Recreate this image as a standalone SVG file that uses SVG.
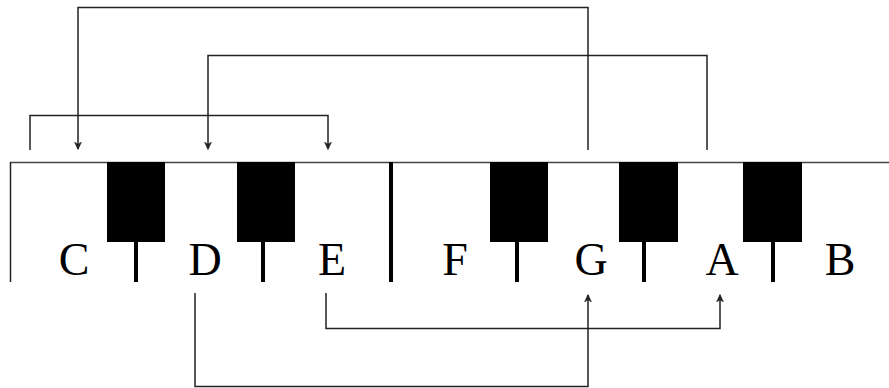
<svg xmlns="http://www.w3.org/2000/svg" width="889" height="388" viewBox="0 0 889 388">
<defs>
<marker id="arr" viewBox="0 0 10 10" refX="9" refY="5" markerWidth="8" markerHeight="8" markerUnits="userSpaceOnUse" orient="auto">
<path d="M0.5,0.8 L9.5,5 L0.5,9.2 L3,5 Z" fill="#222" stroke="#222" stroke-width="0.8" stroke-linejoin="round"/>
</marker>
<style>
.k{fill:#000}
.stem{stroke:#000;stroke-width:4}
.edge{fill:none;stroke:#222;stroke-width:1.5}
.lbl{font-family:"Liberation Serif","Times New Roman",serif;font-size:46px;fill:#000;text-anchor:middle}
</style>
</defs>
<rect width="889" height="388" fill="#fff"/>
<g id="keyboard">
<line x1="10" y1="162.5" x2="889" y2="162.5" stroke="#444" stroke-width="1.5"/>
<line x1="10.5" y1="162" x2="10.5" y2="282" stroke="#222" stroke-width="1.5"/>
<line x1="391" y1="162" x2="391" y2="282" stroke="#000" stroke-width="4"/>
</g>
<g id="blackkeys">
<rect class="k" x="107" y="162" width="58" height="80"/>
<rect class="k" x="237" y="162" width="58" height="80"/>
<rect class="k" x="490" y="162" width="58" height="80"/>
<rect class="k" x="619" y="162" width="59" height="80"/>
<rect class="k" x="743" y="162" width="59" height="80"/>
<line class="stem" x1="136" y1="242" x2="136" y2="282"/>
<line class="stem" x1="263" y1="242" x2="263" y2="282"/>
<line class="stem" x1="517" y1="242" x2="517" y2="282"/>
<line class="stem" x1="644" y1="242" x2="644" y2="282"/>
<line class="stem" x1="773" y1="242" x2="773" y2="282"/>
</g>
<g id="C"><text class="lbl" x="74" y="275">C</text></g>
<g id="D"><text class="lbl" x="205" y="275">D</text></g>
<g id="E"><text class="lbl" x="332" y="275">E</text></g>
<g id="F"><text class="lbl" x="455" y="275">F</text></g>
<g id="G"><text class="lbl" x="591" y="275">G</text></g>
<g id="A"><text class="lbl" x="722" y="275">A</text></g>
<g id="B"><text class="lbl" x="840" y="275">B</text></g>
<g id="connectors">
<path class="edge" d="M588,150 V7.5 H78 V149" marker-end="url(#arr)"/>
<path class="edge" d="M707,150 V55.5 H208 V149" marker-end="url(#arr)"/>
<path class="edge" d="M30,150 V115.5 H328 V149" marker-end="url(#arr)"/>
<path class="edge" d="M195,293 V386.5 H588 V295" marker-end="url(#arr)"/>
<path class="edge" d="M326,293 V328.5 H720 V295" marker-end="url(#arr)"/>
</g>
</svg>
